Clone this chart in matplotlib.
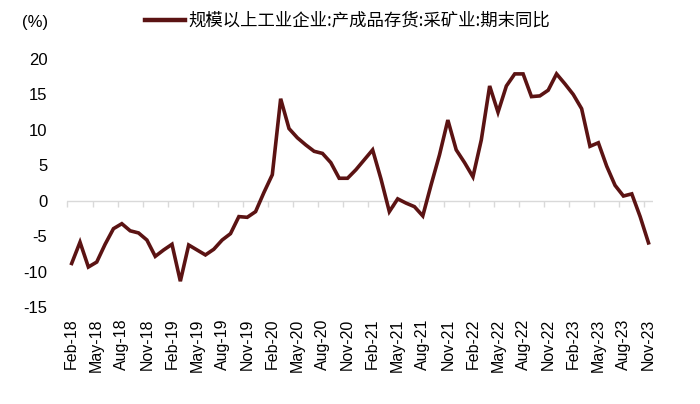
import matplotlib
matplotlib.use("Agg")
import matplotlib.pyplot as plt
from matplotlib.lines import Line2D
import numpy as np
import pandas as pd

# ---- data ----
months = pd.date_range("2018-02-01", "2023-11-01", freq="MS")
dates = [d.strftime("%b-%y") for d in months]
values = [
    -8.8, -5.8, -9.3, -8.6, -6.1, -3.9, -3.2, -4.2, -4.5, -5.5, -7.8, -6.9,   # Feb-18 .. Jan-19
    -6.1, -11.3, -6.2, -6.9, -7.6, -6.8, -5.5, -4.6, -2.2, -2.3, -1.5, 1.2,   # Feb-19 .. Jan-20
    3.7, 14.4, 10.2, 8.9, 7.9, 7.0, 6.7, 5.4, 3.2, 3.2, 4.4, 5.8,             # Feb-20 .. Jan-21
    7.2, 3.1, -1.5, 0.3, -0.3, -0.8, -2.1, 2.3, 6.5, 11.4, 7.2, 5.4,          # Feb-21 .. Jan-22
    3.4, 8.6, 16.2, 12.5, 16.2, 17.9, 17.9, 14.7, 14.8, 15.6, 17.9, 16.5,     # Feb-22 .. Jan-23
    15.0, 13.0, 7.7, 8.2, 4.9, 2.2, 0.7, 1.0, -2.2, -5.9,                     # Feb-23 .. Nov-23
]
series_name = "规模以上工业企业:产成品存货:采矿业:期末同比"
yticks = [20, 15, 10, 5, 0, -5, -10, -15]
unit_label = "(%)"

# ---- style ----
plt.rcParams["font.family"] = ["Liberation Sans", "DejaVu Sans"]
line_color = "#5B1313"
grid_color = "#D9D9D9"

fig = plt.figure(figsize=(7.0, 4.04), dpi=100)
ax = fig.add_axes([0.0964, 0.2389, 0.836, 0.6151])

x = np.arange(len(values))
ax.plot(x, values, color=line_color, lw=2.6, solid_joinstyle="miter")

ymin, ymax = -15, 20
ax.set_ylim(ymin, ymax)
ax.set_xlim(-0.5, len(values) - 0.5)

ax.axhline(0, color=grid_color, lw=1.0, zorder=0)

for s in ax.spines.values():
    s.set_visible(False)

ax.set_yticks(yticks)
ax.set_yticklabels([str(t) for t in yticks], fontsize=12)
ax.tick_params(axis="y", length=0, pad=14.5)

lab_idx = x[::3]
ax.set_xticks(lab_idx)
ax.set_xticklabels([dates[i] for i in lab_idx], rotation=90, fontsize=11.5)
ax.tick_params(axis="x", length=0, pad=8)

# zero-line tick marks between categories
sec = ax.secondary_xaxis((0 - ymin) / (ymax - ymin))
sec.spines["bottom"].set_visible(False)
sec.set_xticks(np.arange(-0.5, len(values) - 0.5, 3))
sec.tick_params(axis="x", direction="out", length=4, width=1.0, color=grid_color, labelbottom=False)

fig.text(0.05, 0.945, unit_label, fontsize=12, ha="center", va="center")

handle = Line2D([], [], color=line_color, lw=3.2)
fig.legend([handle], [series_name], loc="center left", bbox_to_anchor=(0.2071, 0.9488),
           frameon=False, borderpad=0, borderaxespad=0, handlelength=2.3, handletextpad=0.2,
           prop={"family": ["Noto Sans CJK SC", "DejaVu Sans"], "size": 12.5})

fig.savefig("out.png", dpi=100)
